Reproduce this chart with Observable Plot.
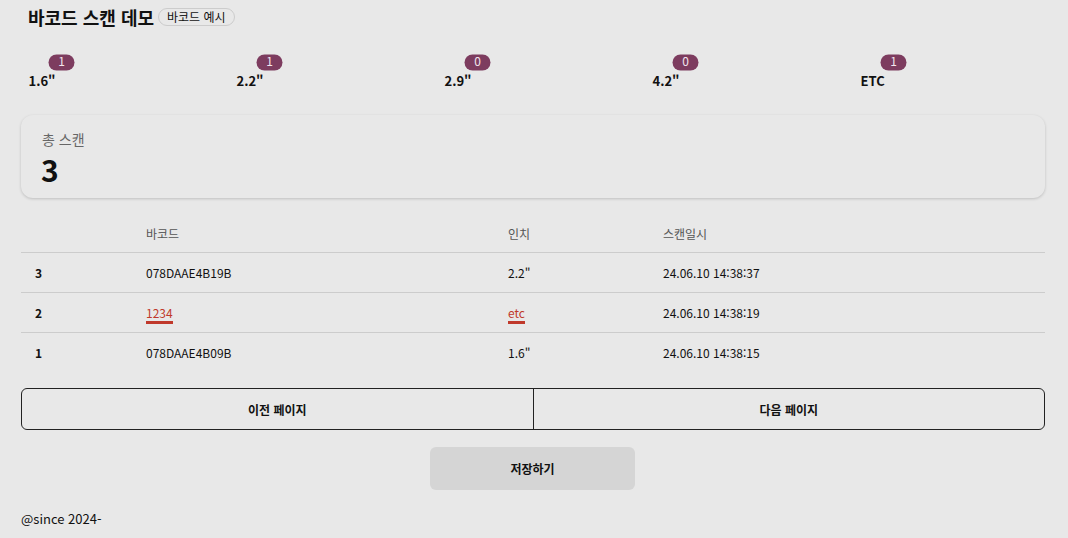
<!DOCTYPE html>
<html lang="ko">
<head>
<meta charset="utf-8">
<title>바코드 스캔 데모</title>
<script src="https://cdn.jsdelivr.net/npm/d3@7"></script>
<script src="https://cdn.jsdelivr.net/npm/@observablehq/plot@0.6"></script>
<style>
  body { margin: 0; background: #e8e8e8; font-family: "Noto Sans CJK KR", "Noto Sans", sans-serif; color: #111; width: 1068px; height: 538px; overflow: hidden; }
  #head { position: absolute; left: 28px; top: 4px; display: flex; align-items: center; gap: 4px; }
  #head h1 { font-size: 18px; font-weight: bold; margin: 0; }
  #head span { font-size: 12px; border: 1px solid #ccc; border-radius: 9px; padding: 0 8px; line-height: 16px; }
  #graphic { position: absolute; left: 0; top: 50px; }
  #total { position: absolute; left: 21px; top: 115px; width: 1024px; height: 83px; background: #e8e8e8; border-radius: 12px; box-shadow: 0 1px 3px rgba(0,0,0,0.18); }
  #total .l { position: absolute; left: 21px; top: 14px; font-size: 14px; color: #666; }
  #total .v { position: absolute; left: 20px; top: 32px; font-size: 30px; font-weight: bold; }
  table { position: absolute; left: 21px; top: 214px; width: 1024px; border-collapse: collapse; font-size: 12px; }
  td, th { text-align: left; font-weight: normal; height: 39px; padding: 0; }
  th { color: #555; height: 38px; }
  tr + tr td, tbody tr td { border-top: 1px solid #ccc; }
  td.n { font-weight: bold; padding-left: 14px; width: 111px; }
  .err { color: #c0392b; border-bottom: 3px solid #c0392b; }
  #pager { position: absolute; left: 21px; top: 388px; width: 1022px; height: 40px; border: 1px solid #222; border-radius: 6px; display: flex; }
  #pager div { flex: 1; display: flex; align-items: center; justify-content: center; font-size: 12px; font-weight: bold; }
  #pager div + div { border-left: 1px solid #222; }
  #save { position: absolute; left: 430px; top: 447px; width: 205px; height: 43px; background: #d5d5d5; border-radius: 6px; display: flex; align-items: center; justify-content: center; font-size: 12px; font-weight: bold; }
  #foot { position: absolute; left: 21px; top: 509px; font-size: 13px; }
</style>
</head>
<body>
<div id="head"><h1>바코드 스캔 데모</h1><span>바코드 예시</span></div>
<div id="graphic"></div>
<div id="total"><div class="l">총 스캔</div><div class="v">3</div></div>
<table>
  <thead><tr><th></th><th style="width:362px">바코드</th><th style="width:155px">인치</th><th>스캔일시</th></tr></thead>
  <tbody id="rows"></tbody>
</table>
<div id="pager"><div>이전 페이지</div><div>다음 페이지</div></div>
<div id="save">저장하기</div>
<div id="foot">@since 2024-</div>
<script>
const sizes = ["1.6\"", "2.2\"", "2.9\"", "4.2\"", "ETC"];
const counts = [1, 1, 0, 0, 1];

const scanNo = [3, 2, 1];
const scanCode = ["078DAAE4B19B", "1234", "078DAAE4B09B"];
const scanInch = ["2.2\"", "etc", "1.6\""];
const scanTime = ["24.06.10 14:38:37", "24.06.10 14:38:19", "24.06.10 14:38:15"];
const scanBad = [false, true, false];

const data = sizes.map((s, i) => ({size: s, count: counts[i]}));
const pill = {draw(ctx) { const w = 13, h = 8; ctx.moveTo(-w + h, -h); ctx.lineTo(w - h, -h);
  ctx.arc(w - h, 0, h, -Math.PI / 2, Math.PI / 2); ctx.lineTo(-w + h, h); ctx.arc(-w + h, 0, h, Math.PI / 2, 3 * Math.PI / 2); ctx.closePath(); }};

const chart = Plot.plot({
  width: 1068, height: 45, margin: 0,
  x: {type: "band", domain: sizes, range: [28, 1068], padding: 0, axis: null},
  y: {domain: [0, 1], range: [12, 31], axis: null},
  style: {fontFamily: "'Noto Sans CJK KR', sans-serif", background: "transparent"},
  marks: [
    Plot.dot(data, {x: "size", y: () => 0, symbol: pill, fill: "#7d3c5f", stroke: "none", dx: -104 + 33}),
    Plot.text(data, {x: "size", y: () => 0, text: d => String(d.count), fill: "#f3e6ee", fontSize: 12, dx: -104 + 33}),
    Plot.text(data, {x: "size", y: () => 1, text: "size", textAnchor: "start", fontWeight: "bold", fontSize: 13, fill: "#111", dx: -104})
  ]
});
document.getElementById("graphic").appendChild(chart);

const tb = document.getElementById("rows");
scanNo.forEach((n, i) => {
  const tr = document.createElement("tr");
  const c = t => scanBad[i] ? `<span class="err">${t}</span>` : t;
  tr.innerHTML = `<td class="n">${n}</td><td>${c(scanCode[i])}</td><td>${c(scanInch[i])}</td><td>${scanTime[i]}</td>`;
  tb.appendChild(tr);
});
</script>
</body>
</html>
